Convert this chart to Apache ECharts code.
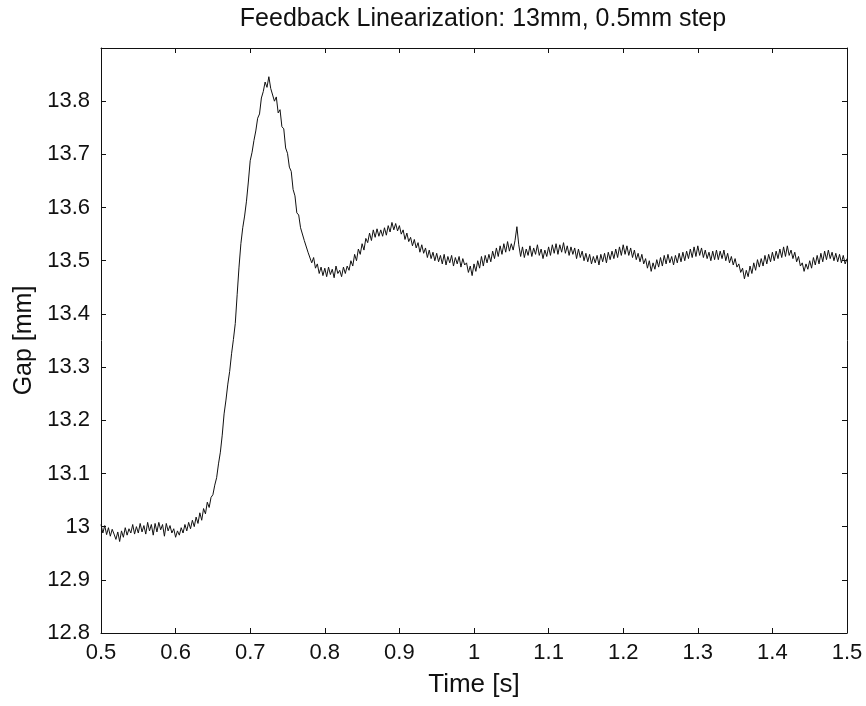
<!DOCTYPE html>
<html>
<head>
<meta charset="utf-8">
<script src="https://cdn.jsdelivr.net/npm/echarts@6/dist/echarts.min.js"></script>
<style>
  html, body { margin: 0; padding: 0; background: #fff; }
  #chart { width: 866px; height: 706px; }
</style>
</head>
<body>
<div id="chart"></div>
<script>
// Sampling grid of the gap sensor record (s)
const sampleStart = 0.5;
const sampleStep = 0.0025;

// Gap readings [mm], one per sample, split by phase of the response
// 0.500 - 0.6475 s: holding at 13 mm before the step
const gapHold = [
  13.004, 12.988, 13.002, 12.985, 12.998, 12.982, 12.995, 12.986, 12.976, 12.990,
  12.972, 12.992, 12.980, 12.998, 12.984, 12.996, 12.988, 13.004, 12.986, 13.000,
  12.988, 13.006, 12.990, 13.002, 12.986, 13.008, 12.992, 13.004, 12.984, 13.006,
  12.990, 13.008, 12.994, 13.004, 12.982, 13.006, 12.992, 13.002, 12.988, 12.996,
  12.980, 12.992, 12.984, 12.998, 12.988, 13.004, 12.992, 13.008, 12.996, 13.012,
  13.000, 13.018, 13.006, 13.026, 13.012, 13.034, 13.024, 13.046, 13.036, 13.055
];
// 0.650 - 0.7975 s: rise, overshoot and fall back
const gapRise = [
  13.060, 13.078, 13.092, 13.118, 13.140, 13.172, 13.212, 13.238, 13.268, 13.292,
  13.325, 13.352, 13.382, 13.436, 13.488, 13.532, 13.562, 13.584, 13.612, 13.648,
  13.688, 13.704, 13.726, 13.744, 13.768, 13.776, 13.806, 13.818, 13.836, 13.826,
  13.846, 13.824, 13.826, 13.800, 13.808, 13.778, 13.784, 13.752, 13.748, 13.712,
  13.702, 13.676, 13.668, 13.634, 13.622, 13.590, 13.586, 13.562, 13.560, 13.538,
  13.540, 13.516, 13.518, 13.496, 13.506, 13.486, 13.494, 13.476, 13.488, 13.472
];
// 0.800 - 0.9975 s: undershoot and second hump
const gapRing = [
  13.486, 13.470, 13.488, 13.474, 13.484, 13.468, 13.490, 13.476, 13.482, 13.470,
  13.488, 13.476, 13.490, 13.482, 13.500, 13.490, 13.512, 13.500, 13.522, 13.512,
  13.532, 13.520, 13.542, 13.534, 13.552, 13.538, 13.558, 13.544, 13.560, 13.546,
  13.558, 13.546, 13.562, 13.548, 13.566, 13.554, 13.572, 13.558, 13.570, 13.556,
  13.566, 13.550, 13.558, 13.540, 13.552, 13.536, 13.544, 13.528, 13.540, 13.524,
  13.534, 13.516, 13.530, 13.514, 13.524, 13.506, 13.520, 13.504, 13.516, 13.500,
  13.514, 13.498, 13.510, 13.494, 13.512, 13.492, 13.508, 13.496, 13.510, 13.490,
  13.506, 13.494, 13.508, 13.488, 13.504, 13.492, 13.496, 13.478, 13.490, 13.472
];
// 1.000 - 1.2475 s: settled at 13.5 mm
const gapSettled = [
  13.494, 13.480, 13.500, 13.486, 13.508, 13.490, 13.510, 13.496, 13.512, 13.498,
  13.518, 13.504, 13.524, 13.508, 13.528, 13.512, 13.532, 13.516, 13.536, 13.518,
  13.532, 13.520, 13.538, 13.564, 13.530, 13.508, 13.526, 13.506, 13.522, 13.510,
  13.528, 13.508, 13.524, 13.512, 13.530, 13.510, 13.522, 13.504, 13.520, 13.508,
  13.526, 13.510, 13.530, 13.514, 13.532, 13.512, 13.530, 13.516, 13.534, 13.514,
  13.528, 13.510, 13.526, 13.512, 13.524, 13.504, 13.522, 13.506, 13.518, 13.500,
  13.514, 13.498, 13.512, 13.494, 13.508, 13.496, 13.510, 13.492, 13.512, 13.498,
  13.514, 13.496, 13.516, 13.502, 13.518, 13.504, 13.522, 13.506, 13.526, 13.510,
  13.530, 13.512, 13.528, 13.510, 13.524, 13.506, 13.520, 13.502, 13.514, 13.498,
  13.512, 13.494, 13.504, 13.486, 13.500, 13.480, 13.496, 13.484, 13.502, 13.488
];
// 1.250 - 1.500 s: settled at 13.5 mm
const gapLate = [
  13.506, 13.490, 13.510, 13.494, 13.512, 13.496, 13.508, 13.492, 13.510, 13.496,
  13.514, 13.498, 13.516, 13.500, 13.518, 13.504, 13.522, 13.506, 13.526, 13.508,
  13.528, 13.510, 13.524, 13.506, 13.520, 13.504, 13.516, 13.500, 13.518, 13.502,
  13.520, 13.502, 13.518, 13.504, 13.520, 13.500, 13.514, 13.496, 13.508, 13.492,
  13.504, 13.488, 13.494, 13.478, 13.486, 13.466, 13.482, 13.470, 13.490, 13.476,
  13.496, 13.482, 13.502, 13.488, 13.504, 13.490, 13.510, 13.494, 13.512, 13.498,
  13.516, 13.500, 13.518, 13.504, 13.522, 13.506, 13.526, 13.508, 13.528, 13.510,
  13.520, 13.504, 13.516, 13.498, 13.508, 13.490, 13.496, 13.480, 13.494, 13.484,
  13.500, 13.486, 13.506, 13.492, 13.510, 13.494, 13.514, 13.498, 13.518, 13.502,
  13.520, 13.504, 13.516, 13.500, 13.514, 13.498, 13.512, 13.496, 13.510, 13.494,
  13.504
];

// Axis ranges and tick spacing
const timeRange = [0.5, 1.5];
const timeTick = 0.1;
const gapRange = [12.8, 13.9];
const gapTick = 0.1;

const gapAll = gapHold.concat(gapRise, gapRing, gapSettled, gapLate);
const trace = gapAll.map((g, i) => [+(sampleStart + i * sampleStep).toFixed(4), g]);

const fontFamily = '"Liberation Sans", Arial, Helvetica, sans-serif';
const ink = '#111';
const fmt = v => String(parseFloat(v.toFixed(1)));

const tickStyle = { show: true, inside: true, length: 5, lineStyle: { color: ink, width: 1 } };
const lineStyle = { show: true, lineStyle: { color: ink, width: 1 } };

const chart = echarts.init(document.getElementById('chart'), null, { renderer: 'canvas' });
chart.setOption({
  animation: false,
  backgroundColor: '#fff',
  title: {
    text: 'Feedback Linearization: 13mm, 0.5mm step',
    left: 478,
    top: 2,
    textAlign: 'center',
    textStyle: { fontFamily, fontSize: 25, fontWeight: 'normal', color: ink }
  },
  grid: { left: 101, right: 19, top: 48, bottom: 73, containLabel: false },
  xAxis: [
    {
      type: 'value', position: 'bottom',
      min: timeRange[0], max: timeRange[1], interval: timeTick,
      name: 'Time [s]', nameLocation: 'middle', nameGap: 39,
      nameTextStyle: { fontFamily, fontSize: 26, color: ink },
      axisLine: lineStyle, axisTick: tickStyle, splitLine: { show: false },
      axisLabel: { fontFamily, fontSize: 22, color: ink, margin: 9, formatter: fmt }
    },
    {
      type: 'value', position: 'top',
      min: timeRange[0], max: timeRange[1], interval: timeTick,
      axisLine: lineStyle, axisTick: tickStyle, splitLine: { show: false },
      axisLabel: { show: false }
    }
  ],
  yAxis: [
    {
      type: 'value', position: 'left',
      min: gapRange[0], max: gapRange[1], interval: gapTick,
      name: 'Gap [mm]', nameLocation: 'middle', nameGap: 62,
      nameTextStyle: { fontFamily, fontSize: 25, color: ink },
      axisLine: lineStyle, axisTick: tickStyle, splitLine: { show: false },
      axisLabel: {
        fontFamily, fontSize: 22, color: ink, margin: 11,
        formatter: v => (v > gapRange[1] - gapTick / 2 ? '' : fmt(v))
      }
    },
    {
      type: 'value', position: 'right',
      min: gapRange[0], max: gapRange[1], interval: gapTick,
      axisLine: lineStyle, axisTick: tickStyle, splitLine: { show: false },
      axisLabel: { show: false }
    }
  ],
  series: [{
    type: 'line',
    data: trace,
    xAxisIndex: 0,
    yAxisIndex: 0,
    showSymbol: false,
    symbol: 'none',
    lineStyle: { color: ink, width: 1 }
  }]
});
</script>
</body>
</html>
